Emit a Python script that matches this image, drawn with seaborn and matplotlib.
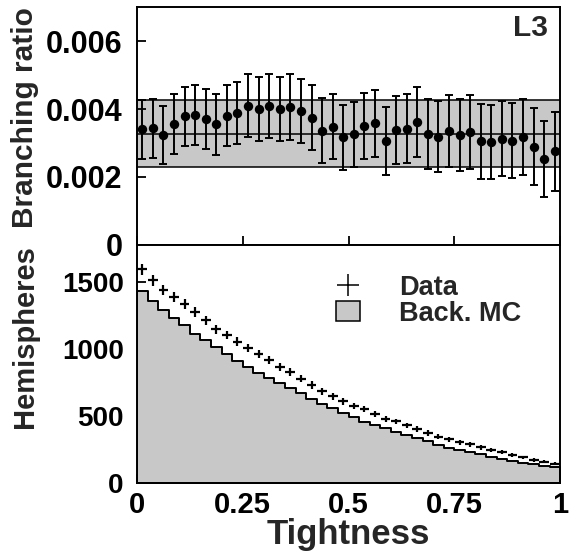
import numpy as np
import pandas as pd
import matplotlib
matplotlib.use("Agg")
import matplotlib.pyplot as plt
import seaborn as sns
from matplotlib.lines import Line2D
from matplotlib.patches import Patch

# ---------------- data ----------------
n_bins = 40
bin_edges = np.linspace(0.0, 1.0, n_bins + 1)
bin_centers = 0.5 * (bin_edges[:-1] + bin_edges[1:])

branching_ratio = [0.00340, 0.00343, 0.00324, 0.00356, 0.00379, 0.00382, 0.00371, 0.00355,
                   0.00381, 0.00389, 0.00410, 0.00400, 0.00410, 0.00401, 0.00406, 0.00395,
                   0.00375, 0.00336, 0.00348, 0.00317, 0.00326, 0.00350, 0.00358, 0.00306,
                   0.00339, 0.00342, 0.00362, 0.00327, 0.00319, 0.00336, 0.00324, 0.00332,
                   0.00305, 0.00303, 0.00313, 0.00307, 0.00318, 0.00289, 0.00253, 0.00275]
branching_err = [0.00086, 0.00086, 0.00085, 0.00087, 0.00087, 0.00088, 0.00089, 0.00089,
                 0.00090, 0.00092, 0.00093, 0.00093, 0.00094, 0.00094, 0.00096, 0.00095,
                 0.00096, 0.00096, 0.00096, 0.00096, 0.00096, 0.00098, 0.00099, 0.00099,
                 0.00100, 0.00102, 0.00103, 0.00104, 0.00104, 0.00106, 0.00106, 0.00108,
                 0.00110, 0.00110, 0.00110, 0.00110, 0.00112, 0.00113, 0.00113, 0.00115]
band_center = 0.00326
band_low = 0.00230
band_high = 0.00427

data_counts = [1592, 1510, 1438, 1388, 1334, 1273, 1212, 1146, 1102, 1052,
               1007, 960, 913, 864, 828, 776, 729, 684, 645, 608,
               573, 548, 515, 478, 457, 428, 401, 371, 343, 325,
               301, 287, 264, 242, 226, 207, 189, 169, 157, 143]
mc_counts = [1433, 1358, 1289, 1231, 1177, 1110, 1065, 1015, 960, 910,
             866, 821, 779, 742, 704, 667, 622, 587, 555, 522,
             493, 455, 431, 406, 381, 356, 330, 311, 281, 261,
             244, 231, 214, 194, 177, 162, 149, 137, 127, 115]

top_yticks = [0, 0.002, 0.004, 0.006]
top_yticklabels = ["0", "0.002", "0.004", "0.006"]
bot_yticks = [0, 500, 1000, 1500]
xticks = [0, 0.25, 0.5, 0.75, 1]
xticklabels = ["0", "0.25", "0.5", "0.75", "1"]

df = pd.DataFrame({"x": bin_centers, "br": branching_ratio, "br_err": branching_err,
                   "data": data_counts, "mc": mc_counts})

# ---------------- style ----------------
sns.set_theme(style="ticks")
plt.rcParams["font.family"] = ["Liberation Sans", "DejaVu Sans"]
plt.rcParams["font.weight"] = "bold"
plt.rcParams["axes.labelweight"] = "bold"

GREY = "#c8c8c8"
LW = 1.4

fig = plt.figure(figsize=(5.78, 5.54), dpi=100)
ax1 = fig.add_axes([0.237, 0.558, 0.732, 0.429])
ax2 = fig.add_axes([0.237, 0.1287, 0.732, 0.4293])

# ---------------- top panel ----------------
ax1.axhspan(band_low, band_high, color=GREY, zorder=0, lw=0)
for yv in (band_low, band_center, band_high):
    ax1.axhline(yv, color="black", lw=1.1, zorder=1)
ax1.errorbar(df["x"], df["br"], yerr=df["br_err"], fmt="none", ecolor="black",
             elinewidth=1.4, capsize=2.8, capthick=1.4, zorder=2)
sns.scatterplot(data=df, x="x", y="br", ax=ax1, color="black", s=46,
                edgecolor="black", linewidth=0, zorder=3, legend=False)
ax1.set_xlim(0, 1)
ax1.set_ylim(0, 0.007)
ax1.set_yticks(top_yticks)
ax1.set_yticklabels(top_yticklabels)
ax1.set_xticks(xticks)
ax1.set_xticklabels([])
ax1.set_xlabel("")
ax1.set_ylabel("Branching ratio", fontsize=21.5, fontweight="bold")
ax1.text(0.972, 0.972, "L3", transform=ax1.transAxes, ha="right", va="top",
         fontsize=21.5, fontweight="bold")

# ---------------- bottom panel ----------------
sns.histplot(data=df, x="x", weights="mc", bins=n_bins, binrange=(0, 1), element="step",
             fill=True, color=GREY, alpha=1.0, edgecolor="black", linewidth=LW,
             ax=ax2, zorder=1)
ax2.errorbar(df["x"], df["data"], xerr=0.0115, yerr=np.sqrt(df["data"]), fmt="none",
             ecolor="black", elinewidth=1.6, zorder=3)
ax2.set_xlim(0, 1)
ax2.set_ylim(0, 1775)
ax2.set_yticks(bot_yticks)
ax2.set_xticks(xticks)
ax2.set_xticklabels(xticklabels)
ax2.set_xlabel("Tightness", fontsize=25, fontweight="bold", labelpad=-1)
ax2.set_ylabel("Hemispheres", fontsize=21, fontweight="bold")

handles = [Line2D([], [], color="black", marker="+", linestyle="none",
                  markersize=16, markeredgewidth=1.1),
           Patch(facecolor=GREY, edgecolor="black", linewidth=1.1)]
leg = ax2.legend(handles, ["Data", "Back. MC"], loc="upper left",
                 bbox_to_anchor=(0.471, 0.875), frameon=False,
                 prop={"size": 19.5, "weight": "bold"}, handlelength=0.88,
                 handleheight=0.78, handletextpad=1.45, labelspacing=0.0,
                 borderpad=0, borderaxespad=0)

for ax in (ax1, ax2):
    for sp in ax.spines.values():
        sp.set_visible(True)
        sp.set_linewidth(LW)
        sp.set_color("black")
        sp.set_zorder(5)
    ax.tick_params(axis="both", direction="in", length=6.5, width=1.3,
                   colors="black", top=False, right=False)
    ax.tick_params(axis="x", labelsize=21, pad=6)
ax1.tick_params(axis="y", labelsize=22, pad=10.5)
ax2.tick_params(axis="y", labelsize=20, pad=9.5)
for ax in (ax1, ax2):
    for lab in ax.get_xticklabels() + ax.get_yticklabels():
        lab.set_fontweight("bold")

ax1.yaxis.set_label_coords(-0.232, 0.534)
ax2.yaxis.set_label_coords(-0.232, 0.613)

fig.savefig("out.png", dpi=100)
